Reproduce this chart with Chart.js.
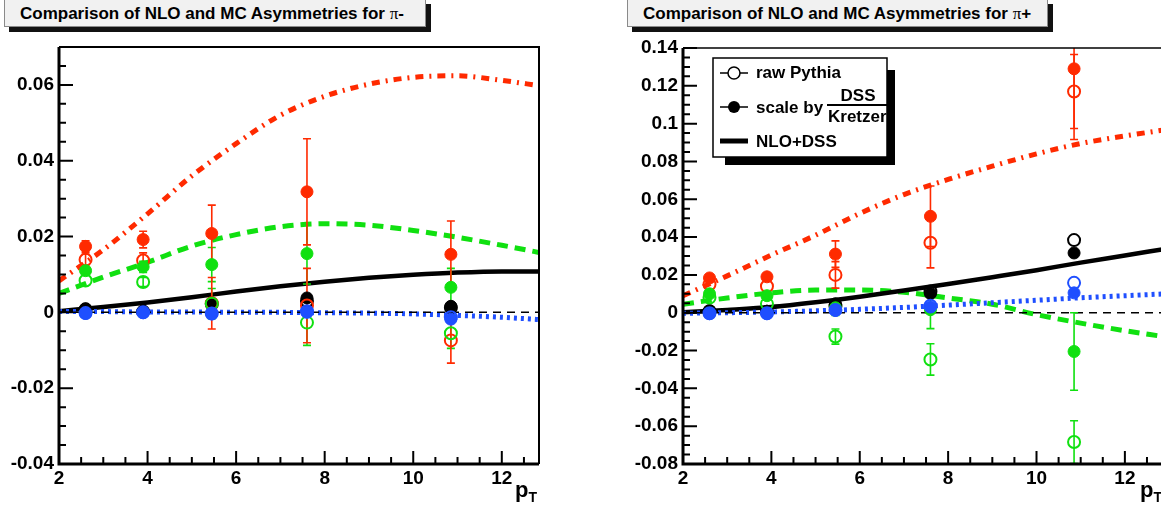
<!DOCTYPE html>
<html>
<head>
<meta charset="utf-8">
<script src="https://cdn.jsdelivr.net/npm/chart.js@4.4.1/dist/chart.umd.min.js"></script>
<style>
    body { margin: 0; width: 1161px; height: 510px; overflow: hidden; background: #fff; position: relative; font-family: "Liberation Sans", Arial, sans-serif; }
    .panel { position: absolute; top: 0; }
    .title { position: absolute; top: -1px; height: 28px; background: #f1f1f1; border: 1px solid #8a8a8a; box-shadow: 5px 5px 0 #111; box-sizing: border-box; font-weight: bold; font-size: 17px; line-height: 28px; padding-left: 15px; white-space: nowrap; }
    .pi { font-family: "Liberation Serif", "DejaVu Serif", serif; font-weight: normal; }
    .pt { position: absolute; top: 477px; font-weight: bold; font-size: 22px; }
    .pt sub { font-size: 14px; }
</style>
</head>
<body>
<div class="title" style="left:4px;width:422px;">Comparison of NLO and MC Asymmetries for <span class="pi">π</span>-</div>
<div class="title" style="left:627px;width:421px;">Comparison of NLO and MC Asymmetries for <span class="pi">π</span>+</div>
<canvas id="chartMinus" class="panel" style="left:0px" width="580" height="510"></canvas>
<canvas id="chartPlus" class="panel" style="left:580px" width="600" height="510"></canvas>
<div class="pt" style="left:515px;">p<sub>T</sub></div>
<div class="pt" style="left:1140px;">p<sub>T</sub></div>
<script>
// pT bins of the MC points and x grid of the NLO curves
const ptX = [2.6, 3.9, 5.45, 7.6, 10.85];
const curveX = [2, 3, 4, 5, 6, 7, 8, 9, 10, 11, 12, 12.84];
const xTicks = [2, 4, 6, 8, 10, 12];
const yTicksMinus = [-0.04, -0.02, 0, 0.02, 0.04, 0.06];
const yTicksPlus = [-0.08, -0.06, -0.04, -0.02, 0, 0.02, 0.04, 0.06, 0.08, 0.1, 0.12, 0.14];

// pi-  : open = raw Pythia, filled = scaled by DSS/Kretzer
const redRawM = [0.0139, 0.0137, 0.0024, 0.0018, -0.0074];
const redRawErrM = [0.0015, 0.0020, 0.0068, 0.0098, 0.0060];
const redSclM = [0.0174, 0.0192, 0.0208, 0.0318, 0.0153];
const redSclErrM = [0.0015, 0.0022, 0.0075, 0.0140, 0.0088];
const greenRawM = [0.0084, 0.0080, 0.0023, -0.0027, -0.0055];
const greenRawErrM = [0.0010, 0.0012, 0.0040, 0.0060, 0.0040];
const greenSclM = [0.0110, 0.0120, 0.0126, 0.0155, 0.0066];
const greenSclErrM = [0.0010, 0.0015, 0.0045, 0.0080, 0.0050];
const blackRawM = [0.0008, 0.0002, 0.0022, 0.0030, 0.0012];
const blackSclM = [0.0009, 0.0003, 0.0025, 0.0038, 0.0016];
const blueRawM = [-0.0002, 0.0000, -0.0003, 0.0003, -0.0013];
const blueSclM = [-0.0003, -0.0001, -0.0004, 0.0000, -0.0018];
const smallErr = [0.0001, 0.0001, 0.0002, 0.0002, 0.0003];

// pi- NLO curves
const redCurveM = [0.0083, 0.0165, 0.026, 0.036, 0.0445, 0.052, 0.057, 0.0602, 0.062, 0.0624, 0.0612, 0.0598];
const greenCurveM = [0.005, 0.0093, 0.0132, 0.0175, 0.0205, 0.0226, 0.0234, 0.023, 0.0216, 0.0198, 0.0177, 0.0158];
const blackCurveM = [0.0003, 0.0014, 0.0026, 0.004, 0.0055, 0.0069, 0.0081, 0.0091, 0.0099, 0.0105, 0.0108, 0.0108];
const blueCurveM = [0.0002, 0.0002, 0.0001, 0.0001, 0.0, 0.0, -0.0001, -0.0002, -0.0004, -0.0008, -0.0013, -0.0019];

// pi+
const redRawP = [0.0150, 0.0140, 0.0200, 0.0370, 0.1170];
const redRawErrP = [0.0020, 0.0020, 0.0070, 0.0133, 0.0196];
const redSclP = [0.0184, 0.0190, 0.0310, 0.0510, 0.1290];
const redSclErrP = [0.0020, 0.0020, 0.0070, 0.0160, 0.0374];
const greenRawP = [0.0080, 0.0047, -0.0126, -0.0247, -0.0684];
const greenRawErrP = [0.0015, 0.0015, 0.0040, 0.0083, 0.0113];
const greenSclP = [0.0100, 0.0090, 0.0026, 0.0016, -0.0205];
const greenSclErrP = [0.0015, 0.0015, 0.0040, 0.0100, 0.0205];
const blackRawP = [0.0008, 0.0005, 0.0035, 0.0112, 0.0384];
const blackSclP = [0.0010, 0.0008, 0.0047, 0.0101, 0.0316];
const blueRawP = [-0.0003, -0.0003, 0.0015, 0.0037, 0.0158];
const blueSclP = [-0.0005, -0.0005, 0.0012, 0.0030, 0.0105];

// pi+ NLO curves
const redCurveP = [0.009, 0.0195, 0.0305, 0.041, 0.0525, 0.0625, 0.0705, 0.0775, 0.084, 0.0895, 0.0935, 0.0965];
const greenCurveP = [0.0045, 0.0078, 0.0105, 0.012, 0.012, 0.0108, 0.0078, 0.0045, -0.001, -0.0055, -0.0095, -0.0125];
const blackCurveP = [0.0003, 0.0015, 0.003, 0.0055, 0.0085, 0.0118, 0.0152, 0.0188, 0.0225, 0.0265, 0.0303, 0.0335];
const blueCurveP = [-0.0003, 0.0, 0.0004, 0.001, 0.0018, 0.0028, 0.004, 0.0053, 0.0066, 0.0079, 0.009, 0.0099];

const RED = '#ff2a00';
const GREEN = '#10e010';
const BLUE = '#1f4fff';
const FONT = { family: '"Liberation Sans", Arial, sans-serif', weight: 'bold', size: 19 };

function pointSet(ys, errs, color, filled) {
    return {
        data: ptX.map((x, i) => ({ x: x, y: ys[i] })),
        errs: errs, isPoint: true, showLine: false,
        borderColor: color, backgroundColor: filled ? color : 'rgba(0,0,0,0)',
        pointRadius: 6, pointHoverRadius: 6, pointBorderWidth: filled ? 1 : 2
    };
}

function curveSet(xs, ys, color, dash, width) {
    return {
        data: xs.map((x, i) => ({ x: x, y: ys[i] })),
        showLine: true, borderColor: color, borderWidth: width, borderDash: dash,
        pointRadius: 0, pointHoverRadius: 0, cubicInterpolationMode: 'monotone', fill: false
    };
}

// ROOT style: ticks pointing into the frame, error bars with caps, frame lines
function rootDecor(minorY, fullFrame) {
    return {
        id: 'rootDecor',
        beforeDatasetsDraw(chart) { chart.$errDone = false; },
        beforeDatasetDraw(chart, args) {
            const ds = chart.data.datasets[args.index];
            if (!ds.isPoint || chart.$errDone) return;
            chart.$errDone = true;
            const ctx = chart.ctx, a = chart.chartArea;
            const xs = chart.scales.x, ys = chart.scales.y;
            ctx.save();
            ctx.beginPath();
            ctx.rect(a.left, a.top, a.right - a.left, a.bottom - a.top);
            ctx.clip();
            ctx.lineWidth = 1.6;
            chart.data.datasets.forEach(d => {
                if (!d.isPoint) return;
                ctx.strokeStyle = d.borderColor;
                d.data.forEach((p, i) => {
                    const px = xs.getPixelForValue(p.x);
                    const hi = ys.getPixelForValue(p.y + d.errs[i]);
                    const lo = ys.getPixelForValue(p.y - d.errs[i]);
                    if (lo - hi < 8) return;
                    ctx.beginPath();
                    ctx.moveTo(px, hi); ctx.lineTo(px, lo);
                    ctx.moveTo(px - 4, hi); ctx.lineTo(px + 4, hi);
                    ctx.moveTo(px - 4, lo); ctx.lineTo(px + 4, lo);
                    ctx.stroke();
                });
            });
            ctx.restore();
        },
        afterDraw(chart) {
            const ctx = chart.ctx, a = chart.chartArea;
            const xs = chart.scales.x, ys = chart.scales.y;
            ctx.save();
            ctx.strokeStyle = '#000';
            if (fullFrame) {
                ctx.lineWidth = 2;
                ctx.beginPath();
                ctx.moveTo(a.left, a.top); ctx.lineTo(a.right, a.top); ctx.lineTo(a.right, a.bottom);
                ctx.stroke();
            } else {
                ctx.lineWidth = 1.5;
                ctx.beginPath();
                ctx.moveTo(a.left, a.top); ctx.lineTo(a.right, a.top);
                ctx.stroke();
            }
            ctx.lineWidth = 3;
            ctx.beginPath();
            ctx.moveTo(a.left, a.top); ctx.lineTo(a.left, a.bottom); ctx.lineTo(a.right, a.bottom);
            ctx.stroke();

            ctx.lineWidth = 2;
            ctx.beginPath();
            const n = Math.round((ys.max - ys.min) / minorY);
            for (let k = 0; k <= n; k++) {
                const v = ys.min + k * minorY;
                const major = Math.abs(v / (minorY * 4) - Math.round(v / (minorY * 4))) < 1e-6;
                const py = ys.getPixelForValue(v);
                ctx.moveTo(a.left, py); ctx.lineTo(a.left + (major ? 14 : 7), py);
            }
            for (let v = 2; v <= xs.max + 1e-6; v += 0.5) {
                const major = Math.abs(v / 2 - Math.round(v / 2)) < 1e-6;
                const px = xs.getPixelForValue(v);
                ctx.moveTo(px, a.bottom); ctx.lineTo(px, a.bottom - (major ? 13 : 7));
            }
            ctx.stroke();
            ctx.restore();
        }
    };
}

// legend box of the pi+ panel
const legendBox = {
    id: 'legendBox',
    afterDraw(chart) {
        const ctx = chart.ctx;
        ctx.save();
        ctx.fillStyle = '#000';
        ctx.fillRect(145, 70, 170, 95);
        ctx.fillStyle = '#fff';
        ctx.fillRect(133, 58, 174, 99);
        ctx.strokeStyle = '#000';
        ctx.lineWidth = 1.5;
        ctx.strokeRect(133, 58, 174, 99);

        ctx.lineWidth = 1.5;
        ctx.beginPath();
        ctx.moveTo(140, 73); ctx.lineTo(168, 73);
        ctx.moveTo(140, 107); ctx.lineTo(168, 107);
        ctx.stroke();
        ctx.beginPath();
        ctx.arc(154, 73, 6, 0, Math.PI * 2);
        ctx.fillStyle = '#fff';
        ctx.fill();
        ctx.stroke();
        ctx.beginPath();
        ctx.arc(154, 107, 6, 0, Math.PI * 2);
        ctx.fillStyle = '#000';
        ctx.fill();
        ctx.lineWidth = 5;
        ctx.beginPath();
        ctx.moveTo(140, 141); ctx.lineTo(168, 141);
        ctx.stroke();

        ctx.fillStyle = '#000';
        ctx.font = 'bold 17px "Liberation Sans", Arial, sans-serif';
        ctx.textBaseline = 'middle';
        ctx.textAlign = 'left';
        ctx.fillText('raw Pythia', 176, 73);
        ctx.fillText('scale by', 176, 108);
        ctx.fillText('NLO+DSS', 176, 142);
        ctx.textAlign = 'center';
        ctx.fillText('DSS', 278, 96);
        ctx.textAlign = 'left';
        ctx.fillText('Kretzer', 248, 117);
        ctx.lineWidth = 2;
        ctx.beginPath();
        ctx.moveTo(247, 105); ctx.lineTo(307, 105);
        ctx.stroke();
        ctx.restore();
    }
};

function makeChart(id, sets, yMin, yMax, yTicks, yWidth, padRight, padTop, minorY, fullFrame, extra) {
    return new Chart(document.getElementById(id), {
        type: 'scatter',
        data: { datasets: sets },
        options: {
            responsive: false, animation: false, devicePixelRatio: 1,
            layout: { padding: { left: 0, right: padRight, top: padTop, bottom: 0 } },
            plugins: { legend: { display: false }, tooltip: { enabled: false } },
            scales: {
                x: {
                    type: 'linear', min: 2, max: 12.84,
                    afterBuildTicks: s => { s.ticks = xTicks.map(v => ({ value: v })); },
                    afterFit: s => { s.height = 46; },
                    grid: { display: false, drawTicks: false }, border: { display: false },
                    ticks: { font: FONT, color: '#000', padding: 3, maxRotation: 0, autoSkip: false }
                },
                y: {
                    type: 'linear', min: yMin, max: yMax,
                    afterBuildTicks: s => { s.ticks = yTicks.map(v => ({ value: v })); },
                    afterFit: s => { s.width = yWidth; },
                    grid: { display: false, drawTicks: false }, border: { display: false },
                    ticks: { font: FONT, color: '#000', padding: 5, callback: v => String(Math.round(v * 100) / 100) }
                }
            }
        },
        plugins: [rootDecor(minorY, fullFrame)].concat(extra)
    });
}

// first dataset is drawn last (on top)
const setsMinus = [
    pointSet(blueSclM, smallErr, BLUE, true),
    pointSet(blueRawM, smallErr, BLUE, false),
    pointSet(greenRawM, greenRawErrM, GREEN, false),
    pointSet(greenSclM, greenSclErrM, GREEN, true),
    pointSet(redRawM, redRawErrM, RED, false),
    pointSet(redSclM, redSclErrM, RED, true),
    pointSet(blackSclM, smallErr, '#000', true),
    pointSet(blackRawM, smallErr, '#000', false),
    curveSet([2, 12.84], [0, 0], '#000', [8, 6], 1.5),
    curveSet(curveX, blueCurveM, BLUE, [3, 4], 5),
    curveSet(curveX, blackCurveM, '#000', [], 4.5),
    curveSet(curveX, greenCurveM, GREEN, [11, 7], 5),
    curveSet(curveX, redCurveM, RED, [8, 6, 2, 6], 5)
];

const setsPlus = [
    pointSet(blueSclP, smallErr, BLUE, true),
    pointSet(blueRawP, smallErr, BLUE, false),
    pointSet(greenRawP, greenRawErrP, GREEN, false),
    pointSet(greenSclP, greenSclErrP, GREEN, true),
    pointSet(redRawP, redRawErrP, RED, false),
    pointSet(redSclP, redSclErrP, RED, true),
    pointSet(blackSclP, smallErr, '#000', true),
    pointSet(blackRawP, smallErr, '#000', false),
    curveSet([2, 12.84], [0, 0], '#000', [8, 6], 1.5),
    curveSet(curveX, blueCurveP, BLUE, [3, 4], 5),
    curveSet(curveX, blackCurveP, '#000', [], 4.5),
    curveSet(curveX, greenCurveP, GREEN, [11, 7], 5),
    curveSet(curveX, redCurveP, RED, [8, 6, 2, 6], 5)
];

makeChart('chartMinus', setsMinus, -0.04, 0.07, yTicksMinus, 59, 41, 47, 0.005, true, []);
makeChart('chartPlus', setsPlus, -0.08, 0.14, yTicksPlus, 103, 18, 48, 0.005, false, [legendBox]);
</script>
</body>
</html>
